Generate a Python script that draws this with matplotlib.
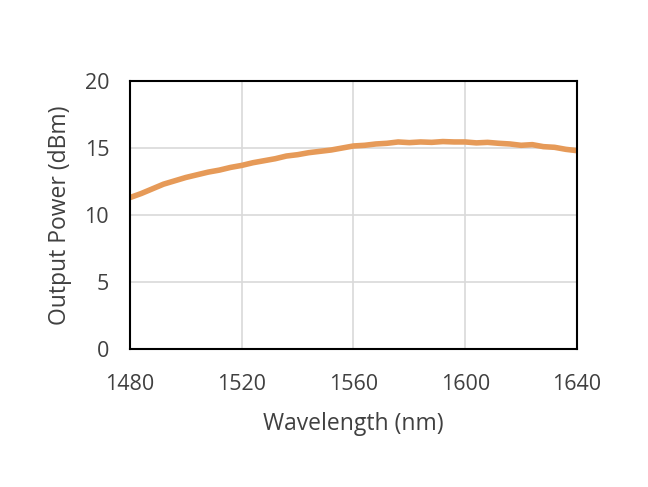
import matplotlib
matplotlib.use("Agg")
import matplotlib.pyplot as plt

wavelength = [1480, 1484, 1488, 1492, 1496, 1500, 1504, 1508, 1512, 1516, 1520,
              1524, 1528, 1532, 1536, 1540, 1544, 1548, 1552, 1556, 1560,
              1564, 1568, 1572, 1576, 1580, 1584, 1588, 1592, 1596, 1600,
              1604, 1608, 1612, 1616, 1620, 1624, 1628, 1632, 1636, 1640]
power = [11.3, 11.6, 11.95, 12.3, 12.55, 12.8, 13.0, 13.2, 13.35, 13.55, 13.7,
         13.9, 14.05, 14.2, 14.4, 14.5, 14.65, 14.75, 14.85, 15.0, 15.15,
         15.2, 15.3, 15.35, 15.45, 15.4, 15.45, 15.42, 15.48, 15.45, 15.45,
         15.38, 15.42, 15.35, 15.3, 15.2, 15.25, 15.1, 15.05, 14.9, 14.8]
xticks = [1480, 1520, 1560, 1600, 1640]
yticks = [0, 5, 10, 15, 20]

plt.rcParams['font.family'] = ['Open Sans', 'DejaVu Sans']
fig = plt.figure(figsize=(6.48, 4.87), dpi=100)
ax = fig.add_axes([0.2006, 0.2834, 0.6898, 0.5503])
ax.plot(wavelength, power, color='#E69A58', lw=4.0, solid_capstyle='butt')
ax.set_xlim(1480, 1640)
ax.set_ylim(0, 20)
ax.set_xticks(xticks)
ax.set_yticks(yticks)
ax.grid(True, color='#D9D9D9', lw=1.2)
ax.set_axisbelow(True)
for s in ax.spines.values():
    s.set_color('black')
    s.set_linewidth(1.5)
ax.tick_params(axis='x', length=0, labelsize=15.5, colors='#404040', pad=18)
ax.tick_params(axis='y', length=0, labelsize=15.5, colors='#404040', pad=15)
ax.set_xlabel('Wavelength (nm)', fontsize=16.5, color='#404040', labelpad=12)
ax.set_ylabel('Output Power (dBm)', fontsize=16.5, color='#404040', labelpad=9)
fig.savefig('out.png', dpi=100)
